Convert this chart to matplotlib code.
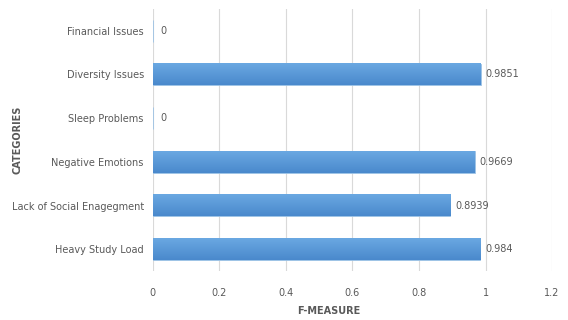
import numpy as np
import matplotlib.pyplot as plt
from matplotlib.colors import LinearSegmentedColormap

categories = ["Heavy Study Load", "Lack of Social Enagegment", "Negative Emotions",
              "Sleep Problems", "Diversity Issues", "Financial Issues"]
values = [0.984, 0.8939, 0.9669, 0, 0.9851, 0]
labels = ["0.984", "0.8939", "0.9669", "0", "0.9851", "0"]
xticks = [0, 0.2, 0.4, 0.6, 0.8, 1, 1.2]

plt.rcParams['font.family'] = ['DejaVu Sans Condensed', 'DejaVu Sans']
txt = '#595959'

fig = plt.figure(figsize=(5.68, 3.2), dpi=100)
ax = fig.add_axes([0.269, 0.153, 0.703, 0.819])

y = np.arange(len(categories))
bars = ax.barh(y, values, height=0.5, color='#5b9bd5', edgecolor='#9dc3e6', linewidth=0.6, zorder=2)

# vertical gradient on each bar, lighter on top
cmap = LinearSegmentedColormap.from_list('g', ['#6aa8e2', '#4a89cc'])
grad = np.linspace(0, 1, 64).reshape(-1, 1)
for b in bars:
    if b.get_width() <= 0:
        continue
    x0, y0, w, h = b.get_x(), b.get_y(), b.get_width(), b.get_height()
    ax.imshow(grad, cmap=cmap, aspect='auto', extent=(x0, x0 + w, y0, y0 + h),
              origin='upper', zorder=3)

for b, lab in zip(bars, labels):
    off = 0.022 if b.get_width() == 0 else 0.015
    ax.text(b.get_width() + off, b.get_y() + b.get_height() / 2, lab,
            va='center', ha='left', fontsize=7, color=txt)

ax.set_xlim(0, 1.2)
ax.set_ylim(-0.5, len(categories) - 0.5)
ax.set_xticks(xticks)
ax.set_xticklabels([str(t) for t in xticks])
ax.set_yticks(y)
ax.set_yticklabels(categories)
ax.tick_params(axis='both', length=0, labelsize=7, colors=txt)
ax.tick_params(axis='x', pad=12)
ax.tick_params(axis='y', pad=6.5)
ax.grid(axis='x', color='#d9d9d9', linewidth=0.8, zorder=0)
ax.set_axisbelow(True)
for s in ax.spines.values():
    s.set_visible(False)

ax.set_xlabel('F-MEASURE', fontsize=7, fontweight='bold', color=txt)
ax.xaxis.set_label_coords(0.44, -0.135)
ax.set_ylabel('CATEGORIES', fontsize=7, fontweight='bold', color=txt)
ax.yaxis.set_label_coords(-0.327, 0.5)

fig.savefig('out.png', dpi=100)
